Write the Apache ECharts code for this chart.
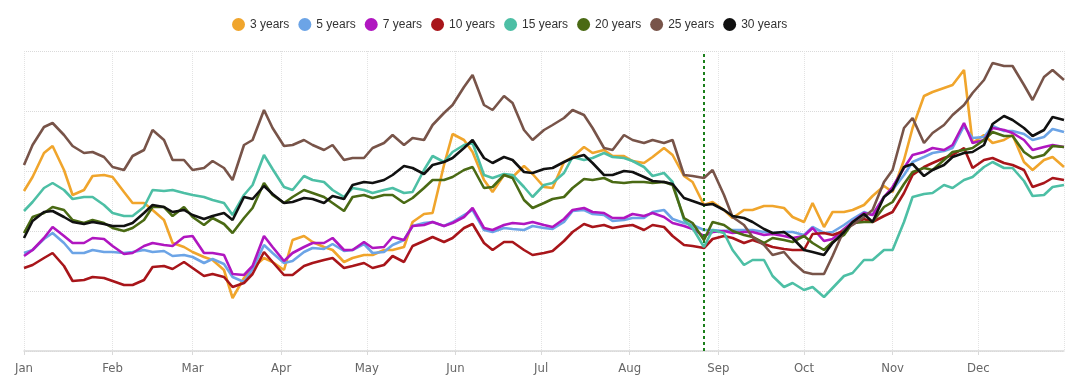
<!DOCTYPE html>
<html>
<head>
<meta charset="utf-8">
<script src="https://cdn.jsdelivr.net/npm/echarts@6/dist/echarts.min.js"></script>
<style>
html,body{margin:0;padding:0;background:#fff;}
#chart{width:1079px;height:391px;}
</style>
</head>
<body>
<div id="chart"></div>
<script>
const dates = [
'2023-01-01','2023-01-04','2023-01-08','2023-01-11','2023-01-15','2023-01-18','2023-01-22','2023-01-25','2023-01-29','2023-02-01','2023-02-05','2023-02-08','2023-02-12','2023-02-15','2023-02-19',
'2023-02-22','2023-02-26','2023-03-01','2023-03-05','2023-03-08','2023-03-12','2023-03-15','2023-03-19','2023-03-22','2023-03-26','2023-03-29','2023-04-02','2023-04-05','2023-04-09','2023-04-12',
'2023-04-16','2023-04-19','2023-04-23','2023-04-26','2023-04-30','2023-05-03','2023-05-07','2023-05-10','2023-05-14','2023-05-17','2023-05-21','2023-05-24','2023-05-28','2023-05-31','2023-06-04',
'2023-06-07','2023-06-11','2023-06-14','2023-06-18','2023-06-21','2023-06-25','2023-06-28','2023-07-02','2023-07-05','2023-07-09','2023-07-12','2023-07-16','2023-07-19','2023-07-23','2023-07-26',
'2023-07-30','2023-08-02','2023-08-06','2023-08-09','2023-08-13','2023-08-16','2023-08-20','2023-08-23','2023-08-27','2023-08-30','2023-09-03','2023-09-06','2023-09-10','2023-09-13','2023-09-17',
'2023-09-20','2023-09-24','2023-09-27','2023-10-01','2023-10-04','2023-10-08','2023-10-11','2023-10-15','2023-10-18','2023-10-22','2023-10-25','2023-10-29','2023-11-01','2023-11-05','2023-11-08',
'2023-11-12','2023-11-15','2023-11-19','2023-11-22','2023-11-26','2023-11-29','2023-12-03','2023-12-06','2023-12-10','2023-12-13','2023-12-17','2023-12-20','2023-12-24','2023-12-27','2023-12-31'
];

const y3 = [
160,174,198,205,181,156,161,175,176,174,159,148,148,141,131,
108,104,99,94,91,81,53,73,83,93,89,81,111,115,109,
104,101,89,93,96,96,101,101,104,129,137,138,186,217,211,
199,171,159,176,174,185,177,164,163,189,194,204,198,201,195,
195,190,188,194,203,196,175,169,146,149,141,133,141,141,145,
145,143,134,129,148,124,139,139,141,146,155,165,159,191,223,
255,259,263,266,281,208,216,208,211,216,189,181,191,194,184
];
const y5 = [
98,101,112,118,108,98,98,101,99,99,98,99,101,99,100,
95,96,94,88,92,87,74,69,82,106,98,88,90,99,103,
102,107,100,101,107,98,99,106,111,125,128,129,125,129,136,
141,121,119,123,122,121,125,123,122,129,140,141,137,136,130,
131,133,133,139,141,132,128,126,121,121,120,121,121,121,119,
118,119,119,116,124,118,119,126,132,139,136,154,161,176,189,
194,198,200,203,225,213,214,225,220,220,217,211,214,222,219
];
const y7 = [
95,101,113,124,115,108,108,113,112,105,97,98,105,108,106,
105,114,115,98,98,96,77,76,85,115,104,90,98,104,108,
108,113,101,101,109,103,104,114,111,125,126,129,125,128,134,
143,123,121,126,128,127,129,126,124,132,141,143,139,138,133,
133,137,135,138,134,128,125,122,115,119,120,118,119,119,116,
117,115,113,115,123,110,112,122,129,138,136,154,164,183,196,
199,203,201,206,228,208,211,223,221,218,211,201,204,206,204
];
const y10 = [
83,86,93,98,85,70,71,74,73,70,66,66,71,84,85,
82,89,83,75,77,74,64,68,77,99,89,76,76,85,88,
91,93,83,85,88,83,86,95,89,105,110,114,109,113,123,
127,108,101,109,109,101,96,98,100,110,119,127,124,126,123,
125,126,121,126,124,115,106,105,103,112,115,113,108,111,107,
104,102,101,101,117,118,116,120,127,132,129,135,139,158,176,
184,188,193,196,203,183,191,193,188,186,181,164,168,173,171
];
const y15 = [
140,149,163,168,161,152,154,154,146,138,135,135,144,161,160,
161,158,156,154,151,148,136,156,166,196,182,164,161,175,171,
169,161,154,163,161,158,161,163,158,159,181,195,189,199,206,
208,176,173,177,176,164,154,166,168,178,194,191,193,198,194,
193,190,184,175,178,169,131,123,104,121,118,101,86,91,91,
75,64,68,61,64,54,63,75,78,91,91,101,101,129,154,
157,158,166,163,171,174,184,189,183,183,170,155,156,164,166
];
const y20 = [
118,134,138,144,141,131,128,131,128,123,120,123,131,144,144,
135,144,134,126,133,127,118,133,143,168,156,148,154,161,158,
154,148,140,154,156,153,156,156,148,153,163,171,171,174,181,
184,163,164,176,173,151,143,148,152,154,163,172,171,173,169,
168,169,169,168,169,166,133,128,111,129,126,120,116,114,108,
113,111,109,115,108,101,109,116,128,129,129,144,149,167,179,
183,181,191,199,201,203,211,219,215,215,199,193,196,205,204
];
const y25 = [
186,206,224,228,216,205,198,199,194,184,181,195,201,221,211,
191,191,181,183,190,183,171,206,211,241,223,205,206,211,206,
201,206,191,193,193,203,208,216,206,213,211,226,238,246,264,
276,246,241,255,248,221,211,221,226,233,241,236,223,203,201,
216,211,208,211,208,211,176,175,173,181,156,134,126,114,106,
96,99,89,79,77,77,95,121,126,134,141,169,181,223,233,
208,218,226,236,246,258,271,288,285,285,266,251,274,281,271
];
const y30 = [
113,130,139,140,134,129,127,129,127,125,125,128,138,146,144,
139,141,136,132,135,138,131,154,152,165,157,148,149,153,152,
148,155,152,166,169,168,171,176,185,183,177,186,189,193,203,
211,193,188,194,191,179,178,182,183,189,193,196,188,176,176,
180,179,174,170,169,167,153,150,146,147,141,135,133,129,122,
118,119,113,101,99,96,108,119,129,137,129,154,161,184,187,
175,181,186,194,198,199,206,227,235,231,223,215,221,234,231
];

const seriesNames = ['3 years','5 years','7 years','10 years','15 years','20 years','25 years','30 years'];
const seriesValues = [y3,y5,y7,y10,y15,y20,y25,y30];
const colors = ['#F0A52C','#6CA4E6','#B016C0','#A8151A','#4DBFA5','#4A6A14','#785449','#111111'];
const monthLabels = ['Jan','Feb','Mar','Apr','May','Jun','Jul','Aug','Sep','Oct','Nov','Dec'];
const markerDate = '2023-08-27';

const chart = echarts.init(document.getElementById('chart'), null, {renderer:'canvas'});

const series = seriesNames.map((name, s) => ({
  name: name,
  type: 'line',
  data: dates.map((d, i) => [d, seriesValues[s][i]]),
  showSymbol: false,
  symbol: 'none',
  smooth: false,
  lineStyle: {width: 2.6, color: colors[s]},
  itemStyle: {color: colors[s]},
  emphasis: {disabled: true},
  z: 2 + s
}));
series[series.length - 1].markLine = {
  silent: true,
  symbol: ['none','none'],
  label: {show: false},
  lineStyle: {color: '#1B7F1B', type: [3, 3], width: 2},
  data: [{xAxis: markerDate}]
};

chart.setOption({
  animation: false,
  color: colors,
  legend: {
    top: 13,
    left: 227,
    icon: 'circle',
    itemWidth: 13,
    itemHeight: 13,
    itemGap: 9,
    textStyle: {fontFamily: 'Liberation Sans, Arial, sans-serif', fontSize: 12, color: '#333'},
    data: seriesNames
  },
  grid: {left: 24, right: 15, top: 51, bottom: 40, containLabel: false},
  xAxis: {
    type: 'time',
    min: '2023-01-01',
    max: '2023-12-31',
    splitNumber: 12,
    axisLine: {show: true, lineStyle: {color: '#d9d9d9', width: 1.5}},
    axisTick: {show: true, length: 4, lineStyle: {color: '#d9d9d9'}},
    axisLabel: {
      margin: 11,
      color: '#666',
      fontSize: 13,
      fontFamily: '"Liberation Sans Narrow", "DejaVu Sans Condensed", "Arial Narrow", sans-serif',
      hideOverlap: false,
      formatter: function (val) { return monthLabels[new Date(val).getMonth()]; }
    },
    splitLine: {show: true, lineStyle: {color: '#e3e3e3', type: 'dotted', width: 1}}
  },
  yAxis: {
    type: 'value',
    min: 0,
    max: 300,
    interval: 60,
    axisLine: {show: false},
    axisTick: {show: false},
    axisLabel: {show: false},
    splitLine: {show: true, lineStyle: {color: '#dadada', type: 'dotted', width: 1}}
  },
  series: series
});
</script>
</body>
</html>
